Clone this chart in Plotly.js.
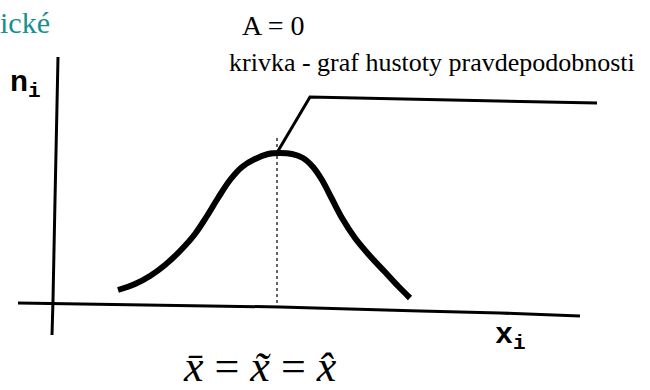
<!DOCTYPE html>
<html>
<head>
<meta charset="utf-8">
<script src="https://cdn.plot.ly/plotly-3.0.1.min.js"></script>
<style>
  html, body { margin: 0; padding: 0; background: #ffffff; }
  #chart { width: 650px; height: 390px; }
</style>
</head>
<body>
<div id="chart"></div>
<script>
// Sketch of a symmetric distribution: density curve with mean = median = mode.
// Coordinates are on a 650 x 390 drawing grid (y grows downward).

// density curve n_i(x_i)
const curveX = [118, 135, 150, 165, 180, 195, 207, 218, 230, 242, 255, 268, 280, 292, 303, 313, 322, 332, 342, 355, 370, 385, 398, 410];
const curveY = [290, 284, 276, 265, 251, 234, 216, 198, 180, 167, 159, 154, 153, 154, 158, 167, 180, 199, 218, 238, 256, 272, 286, 298];

// hand-drawn axes
const xAxisX = [18, 150, 280, 420, 500, 580];
const xAxisY = [303, 305, 307, 311, 313, 316];
const yAxisX = [58, 57, 55, 53, 52];
const yAxisY = [57, 120, 200, 300, 335];

// leader line from the caption to the top of the curve
const leaderX = [597, 450, 310, 278];
const leaderY = [103, 100, 97, 151];

// centre line: mean = median = mode
const centreX = [277, 277];
const centreY = [138, 308];

// texts
const headText = "ické";
const aText = "A = 0";
const captionText = "krivka - graf hustoty pravdepodobnosti";
const yLabel = "n<sub>i</sub>";
const xLabel = "x<sub>i</sub>";
const formulaText = "<i>x\u0304</i> = <i>x\u0303</i> = <i>x\u0302</i>";

const ink = "#000000";

const traces = [
  { x: xAxisX, y: xAxisY, mode: "lines", line: { color: ink, width: 3 }, hoverinfo: "skip" },
  { x: yAxisX, y: yAxisY, mode: "lines", line: { color: ink, width: 3 }, hoverinfo: "skip" },
  { x: centreX, y: centreY, mode: "lines", line: { color: ink, width: 1.2, dash: "dot" }, hoverinfo: "skip" },
  { x: leaderX, y: leaderY, mode: "lines", line: { color: ink, width: 3 }, hoverinfo: "skip" },
  { x: curveX, y: curveY, mode: "lines", line: { color: ink, width: 6, shape: "spline", smoothing: 1 }, hoverinfo: "skip" }
];

const serif = "Times New Roman";
const mono = "Courier New";

const layout = {
  width: 650,
  height: 390,
  margin: { l: 0, r: 0, t: 0, b: 0 },
  paper_bgcolor: "#ffffff",
  plot_bgcolor: "#ffffff",
  showlegend: false,
  font: { family: serif },
  title: {
    text: headText, x: 0, xref: "paper", xanchor: "left", y: 1, yref: "paper", yanchor: "top",
    pad: { t: 12, l: 0 }, font: { family: serif, size: 30, color: "#17908f" }
  },
  xaxis: { range: [0, 650], visible: false, fixedrange: true },
  yaxis: { range: [390, 0], visible: false, fixedrange: true },
  annotations: [
    { x: 240, y: 43, xref: "x", yref: "y", xanchor: "left", yanchor: "bottom", showarrow: false,
      text: aText, font: { family: serif, size: 28, color: ink } },
    { x: 227, y: 79, xref: "x", yref: "y", xanchor: "left", yanchor: "bottom", showarrow: false,
      text: captionText, font: { family: serif, size: 26, color: ink } },
    { x: 8, y: 64, xref: "x", yref: "y", xanchor: "left", yanchor: "top", showarrow: false,
      text: "<b>" + yLabel + "</b>", font: { family: mono, size: 30, color: ink } },
    { x: 493, y: 316, xref: "x", yref: "y", xanchor: "left", yanchor: "top", showarrow: false,
      text: "<b>" + xLabel + "</b>", font: { family: mono, size: 30, color: ink } },
    { x: 260, y: 390, xref: "x", yref: "y", xanchor: "center", yanchor: "bottom", yshift: -3, showarrow: false,
      text: formulaText, font: { family: serif, size: 44, color: ink } }
  ]
};

Plotly.newPlot("chart", traces, layout, { displayModeBar: false, staticPlot: true });
</script>
</body>
</html>
